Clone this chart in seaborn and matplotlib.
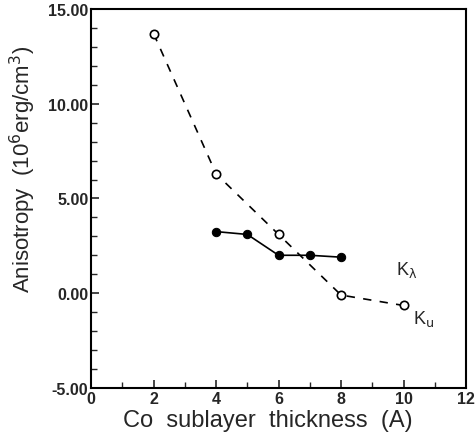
import matplotlib
matplotlib.use("Agg")
import matplotlib.pyplot as plt
import seaborn as sns
import pandas as pd
from matplotlib.ticker import MultipleLocator, FormatStrFormatter

sns.set_style("ticks")
plt.rcParams['font.family'] = ['Liberation Sans', 'DejaVu Sans']

ku_x = [2, 4, 6, 8, 10]
ku_y = [13.7, 6.3, 3.1, -0.1, -0.65]
kl_x = [4, 5, 6, 7, 8]
kl_y = [3.25, 3.1, 2.0, 2.0, 1.9]

df_ku = pd.DataFrame({"x": ku_x, "y": ku_y})
df_kl = pd.DataFrame({"x": kl_x, "y": kl_y})

fig = plt.figure(figsize=(4.77, 4.35), dpi=100)
ax = fig.add_axes([0.191, 0.106, 0.786, 0.871])

sns.lineplot(data=df_ku, x="x", y="y", ax=ax, color="black", linestyle=(0, (5, 5)),
             linewidth=1.2, marker="o", markersize=6, markerfacecolor="white",
             markeredgecolor="black", markeredgewidth=1.2)
sns.lineplot(data=df_kl, x="x", y="y", ax=ax, color="black", linewidth=1.2,
             marker="o", markersize=6, markerfacecolor="black", markeredgecolor="black")

ax.text(9.75, 1.3, r"K$_{\mathrm{\lambda}}$", fontsize=13, ha="left", va="center")
ax.text(10.3, -1.3, r"K$_\mathrm{u}$", fontsize=13, ha="left", va="center")

ax.set_xlim(0, 12)
ax.set_ylim(-5, 15)
ax.xaxis.set_major_locator(MultipleLocator(2))
ax.xaxis.set_minor_locator(MultipleLocator(1))
ax.yaxis.set_major_locator(MultipleLocator(5))
ax.yaxis.set_minor_locator(MultipleLocator(1))
ax.yaxis.set_major_formatter(FormatStrFormatter("%.2f"))
ax.tick_params(which="both", direction="in", top=False, right=False, labelsize=11.5)
ax.tick_params(which="major", length=6, width=1.2, pad=2)
ax.tick_params(which="minor", length=4, width=1)
for lbl in ax.get_xticklabels() + ax.get_yticklabels():
    lbl.set_fontweight("bold")
for s in ax.spines.values():
    s.set_linewidth(1.5)
    s.set_color("black")

ax.set_xlabel("Co  sublayer  thickness  (A)", fontsize=17, labelpad=4)
ax.set_ylabel(r"Anisotropy  (10$^6$erg/cm$^3$)", fontsize=16)
ax.yaxis.set_label_coords(-0.142, 0.58)
ax.xaxis.set_label_coords(0.47, -0.055)
ax.xaxis.label.set_va("top")

fig.savefig("out.png", dpi=100)
